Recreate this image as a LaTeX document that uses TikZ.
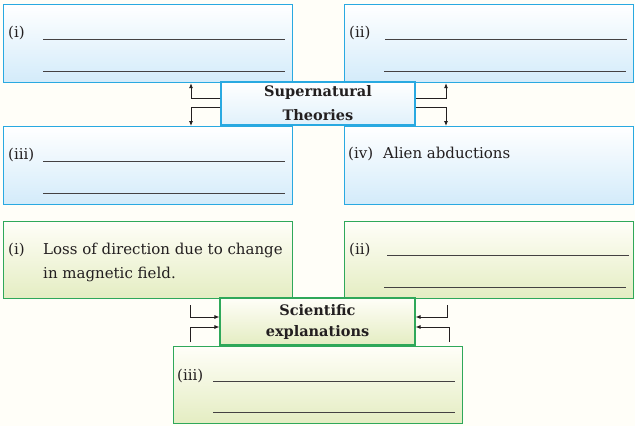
\documentclass[tikz,border=0pt]{standalone}
\usepackage{fontspec}
\setmainfont{DejaVu Serif}
\usetikzlibrary{arrows.meta,calc,positioning}
\definecolor{stBlue}{HTML}{29A9E1}
\definecolor{stBlueFill}{HTML}{D3EBFA}
\definecolor{stGreen}{HTML}{2FA85A}
\definecolor{stGreenFill}{HTML}{E4EDC2}
\definecolor{stPaper}{HTML}{FFFEF8}
\definecolor{stInk}{HTML}{231F20}
\tikzset{
  stnode/.style={anchor=north west, inner sep=0pt, line width=1.2pt},
  superbox/.style={stnode, draw=stBlue, top color=white, bottom color=stBlueFill},
  scibox/.style={stnode, draw=stGreen, top color=stPaper, bottom color=stGreenFill},
  wide/.style={minimum width=289pt, minimum height=78pt},
  title/.style={anchor=center, font=\fontsize{14.5}{24}\selectfont\bfseries, align=center, text=stInk},
  entry/.style={font=\fontsize{15}{24}\selectfont, anchor=base west, align=left, inner sep=0pt, text=stInk},
  blank/.style={line width=0.7pt, stInk!85},
  flow/.style={-{Latex[length=5pt,width=4pt]}, line width=0.8pt, stInk}
}
\begin{document}
\begin{tikzpicture}[x=1pt, y=-1pt]
  \useasboundingbox (0,0) rectangle (635,426);
  \fill[stPaper] (0,0) rectangle (635,426);

  % supernatural theories
  \node[superbox, wide] (si) at (3,4) {};
  \node[superbox, wide] (sii) at (344,4) {};
  \node[superbox, wide] (siii) at (3,126) {};
  \node[superbox, wide] (siv) at (344,126) {};
  \node[superbox, title, top color=white, bottom color=stBlueFill!70,
    minimum width=194pt, minimum height=43pt] (sup) at (318,103.5) {Supernatural\\Theories};

  \node[entry] (lsi) at ($(si.north west)+(5,33)$) {(i)};
  \draw[blank] ($(si.north west)+(40,35)$) -- ($(si.north east)+(-8,35)$);
  \draw[blank] ($(si.north west)+(40,67)$) -- ($(si.north east)+(-8,67)$);
  \node[entry] (lsii) at ($(sii.north west)+(5,33)$) {(ii)};
  \draw[blank] ($(sii.north west)+(41,35)$) -- ($(sii.north east)+(-7,35)$);
  \draw[blank] ($(sii.north west)+(40,67)$) -- ($(sii.north east)+(-8,67)$);
  \node[entry] (lsiii) at ($(siii.north west)+(5,33)$) {(iii)};
  \draw[blank] ($(siii.north west)+(40,35)$) -- ($(siii.north east)+(-8,35)$);
  \draw[blank] ($(siii.north west)+(40,67)$) -- ($(siii.north east)+(-8,67)$);
  \node[entry] (lsiv) at ($(siv.north west)+(4,32)$) {(iv)};
  \node[entry] (tsiv) at ($(siv.north west)+(39,32)$) {Alien abductions};

  \draw[flow] ($(sup.west)+(0,-5.5)$) -| ($(si.south west)+(188,0)$);
  \draw[flow] ($(sup.west)+(0,3.5)$) -| ($(siii.north west)+(188,0)$);
  \draw[flow] ($(sup.east)+(0,-5.5)$) -| ($(sii.south west)+(102,0)$);
  \draw[flow] ($(sup.east)+(0,3.5)$) -| ($(siv.north west)+(102,0)$);

  % scientific explanations
  \node[scibox, wide, minimum height=77pt] (gi) at (3,221) {};
  \node[scibox, wide, minimum height=77pt] (gii) at (344,221) {};
  \node[scibox, wide, minimum height=77pt] (giii) at (173,346) {};
  \node[scibox, title, font=\fontsize{14.5}{21}\selectfont\bfseries,
    minimum width=195pt, minimum height=47pt] (sci) at (317.5,321.5) {Scientific\\explanations};

  \node[entry] (lgi) at ($(gi.north west)+(5,33)$) {(i)};
  \node[entry] (tgi) at ($(gi.north west)+(40,57)$) {Loss of direction due to change\\in magnetic field.};
  \node[entry] (lgii) at ($(gii.north west)+(5,33)$) {(ii)};
  \draw[blank] ($(gii.north west)+(43,34)$) -- ($(gii.north east)+(-5,34)$);
  \draw[blank] ($(gii.north west)+(40,66)$) -- ($(gii.north east)+(-8,66)$);
  \node[entry] (lgiii) at ($(giii.north west)+(4,34)$) {(iii)};
  \draw[blank] ($(giii.north west)+(40,35)$) -- ($(giii.north east)+(-8,35)$);
  \draw[blank] ($(giii.north west)+(40,66)$) -- ($(giii.north east)+(-8,66)$);

  \draw[flow, shorten <=6pt] ($(gi.south west)+(187,0)$) |- ($(sci.west)+(0,-4.5)$);
  \draw[flow, shorten <=4pt] ($(giii.north west)+(17,0)$) |- ($(sci.west)+(0,5.5)$);
  \draw[flow, shorten <=6pt] ($(gii.south west)+(103,0)$) |- ($(sci.east)+(0,-4.5)$);
  \draw[flow, shorten <=4pt] ($(giii.north east)+(-14,0)$) |- ($(sci.east)+(0,5.5)$);
\end{tikzpicture}
\end{document}
